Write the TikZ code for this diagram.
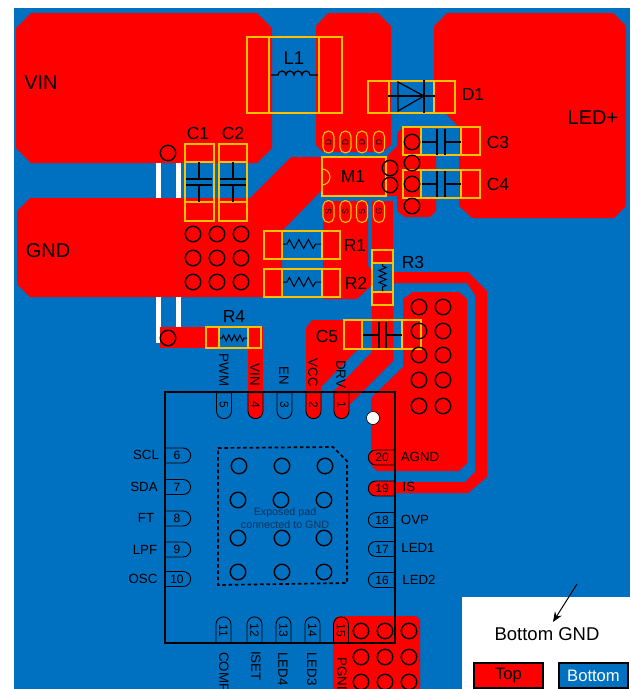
\documentclass[tikz,border=0pt]{standalone}
\usepackage{fontspec}
\setmainfont{Liberation Sans}
\usetikzlibrary{arrows.meta, shapes.misc, decorations.pathmorphing}

\definecolor{boardblue}{HTML}{0070C0}
\definecolor{copperred}{HTML}{FF0000}
\definecolor{partyellow}{HTML}{FFC000}
\definecolor{padtext}{HTML}{083560}

\tikzset{
  copper/.style={fill=copperred, draw=none},
  partbox/.style={draw=partyellow, line width=1.1pt},
  symline/.style={draw=black, line width=1.2pt},
  zigline/.style={draw=black, line width=1pt, decorate},
  viahole/.style={circle, draw=black, line width=1.4pt, minimum size=15.5pt, inner sep=0pt},
  qfnpin/.style={rounded rectangle, draw=black, line width=0.9pt, minimum width=26pt, minimum height=15pt, inner sep=0pt, font=\fontsize{12}{12}\selectfont},
  fetpin/.style={rounded rectangle, draw=partyellow, line width=1.1pt, minimum width=22pt, minimum height=11pt, inner sep=0pt, rotate=90, font=\fontsize{8.5}{8.5}\selectfont},
  biglabel/.style={inner sep=0pt, font=\fontsize{20}{20}\selectfont},
  partlabel/.style={inner sep=0pt, font=\fontsize{17.5}{17.5}\selectfont},
  pinlabel/.style={inner sep=0pt, font=\fontsize{13.3}{13.3}\selectfont},
  legendbox/.style={draw=black, line width=1.2pt, minimum width=69pt, minimum height=25pt, inner sep=0pt, font=\fontsize{16.6}{16.6}\selectfont}
}

\begin{document}
\begin{tikzpicture}[x=1pt, y=-1pt]

\useasboundingbox (0,0) rectangle (631,689);
\fill[white] (0,0) rectangle (631,689);
\fill[boardblue] (14,8) rectangle (630,689);
\fill[white] (462,597) rectangle (631,689);

% top copper
\fill[copper] (31,13) -- (257,13) -- (272,28) -- (272,148) -- (257,163) -- (31,163) -- (16,148) -- (16,28) -- cycle;
\fill[copper] (30,198) -- (250,198) -- (291,157) -- (386,157) -- (397,146) -- (397,196) -- (322,196) -- (322,190) -- (282,231) -- (282,297) -- (30,297) -- (17,284) -- (17,211) -- cycle;
\fill[copper] (328,13) -- (378,13) -- (391,26) -- (391,145) -- (383,152) -- (323,152) -- (316,145) -- (316,26) -- cycle;
\fill[copper] (447,13) -- (613,13) -- (626,26) -- (626,206) -- (614,218) -- (472,218) -- (459,206) -- (459,127) -- (445,113) -- (434,113) -- (434,26) -- cycle;
\fill[copper] (368,81) rectangle (391,113);
\fill[copper] (403,127) -- (421,127) -- (421,156) -- (436,156) -- (436,170) -- (421,170) -- (421,198) -- (436,198) -- (436,211) -- (430,217) -- (405,217) -- (397,211) -- (397,133) -- cycle;
\fill[copper] (323,201) -- (368,201) -- (368,266) -- (372,270) -- (372,285) -- (357,299) -- (323,299) -- cycle;
\fill[copper] (372,201) -- (393,201) -- (393,263) -- (372,263) -- cycle;
\fill[copper] (372,292) -- (393,292) -- (393,361) -- (350,404) -- (333,392) -- (372,352) -- cycle;
\fill[copper] (306,328) -- (312,320) -- (362,320) -- (362,349) -- (357,350) -- (321,387) -- (321,405) -- (306,405) -- cycle;
\fill[copper] (248,327) -- (263,327) -- (263,405) -- (248,405) -- cycle;
\fill[copper] (393,272) -- (468,272) -- (487,291) -- (487,477) -- (468,493) -- (380,493) -- (380,482) -- (465,482) -- (475,472) -- (475,295) -- (467,283) -- (393,283) -- cycle;
\fill[copper] (413,292) -- (459,292) -- (467,299) -- (467,463) -- (459,471) -- (377,471) -- (371,465) -- (371,398) -- (403,367) -- (403,299) -- cycle;
\fill[copper] (338,616) -- (416,616) -- (420,620) -- (420,689) -- (333,689) -- (333,621) -- cycle;

% board cut-outs
\fill[white] (156,163) rectangle (161,198);
\fill[white] (176,163) rectangle (181,198);
\fill[white] (156,297) rectangle (161,343);
\fill[white] (176,297) rectangle (181,327);
\fill[copper] (160,327) rectangle (219,348);

% parts
\draw[partbox] (247,37) rectangle (342,113);
\draw[partbox] (269,37) -- (269,113) (319,37) -- (319,113);
\draw[symline] (271,75) -- (278,75) arc (180:360:4) arc (180:360:4) arc (180:360:4) arc (180:360:4) -- (318,75);

\draw[partbox] (368,81) rectangle (455,113);
\draw[partbox] (389,81) -- (389,113) (434,81) -- (434,113);
\draw[symline] (388,96) -- (435,96);
\draw[symline] (398,82) -- (398,111) -- (424,96) -- cycle;
\draw[symline] (424,80) -- (424,113);

\draw[partbox] (185,144) rectangle (214,221);
\draw[partbox] (185,162) -- (214,162) (185,202) -- (214,202);
\draw[symline] (199,162) -- (199,179) (186,179) -- (212,179) (186,185) -- (212,185) (199,185) -- (199,202);
\draw[partbox] (219,144) rectangle (247,221);
\draw[partbox] (219,162) -- (247,162) (219,202) -- (247,202);
\draw[symline] (233,162) -- (233,179) (220,179) -- (246,179) (220,185) -- (246,185) (233,185) -- (233,202);

\draw[partbox] (403,127) rectangle (480,155);
\draw[partbox] (421,127) -- (421,155) (461,127) -- (461,155);
\draw[symline] (422,142) -- (437,142) (437,129) -- (437,155) (445,129) -- (445,155) (445,142) -- (461,142);
\draw[partbox] (403,170) rectangle (480,198);
\draw[partbox] (421,170) -- (421,198) (461,170) -- (461,198);
\draw[symline] (422,184) -- (437,184) (437,171) -- (437,197) (445,171) -- (445,197) (445,184) -- (461,184);

\draw[partbox] (344,320) rectangle (421,349);
\draw[partbox] (362,320) -- (362,349) (402,320) -- (402,349);
\draw[symline] (363,335) -- (379,335) (379,322) -- (379,348) (386,322) -- (386,348) (386,335) -- (402,335);

\draw[partbox] (264,231) rectangle (340,259);
\draw[partbox] (282,231) -- (282,259) (322,231) -- (322,259);
\draw[zigline, decoration={zigzag, amplitude=4.5pt, segment length=9.5pt, pre length=4pt, post length=4pt}] (283,244) -- (321,244);
\draw[partbox] (264,269) rectangle (340,297);
\draw[partbox] (282,269) -- (282,297) (322,269) -- (322,297);
\draw[zigline, decoration={zigzag, amplitude=4.5pt, segment length=9.5pt, pre length=4pt, post length=4pt}] (283,282) -- (321,282);
\draw[partbox] (372,250) rectangle (393,305);
\draw[partbox] (372,263) -- (393,263) (372,292) -- (393,292);
\draw[zigline, decoration={zigzag, amplitude=3.5pt, segment length=6pt, pre length=2pt, post length=2pt}] (382.5,264) -- (382.5,291);
\draw[partbox] (206,327) rectangle (261,348);
\draw[partbox] (219,327) -- (219,348) (248,327) -- (248,348);
\draw[zigline, decoration={zigzag, amplitude=3pt, segment length=5.5pt, pre length=2pt, post length=2pt}] (220,338) -- (247,338);

\draw[partbox] (322,157) rectangle (386,196);
\draw[partbox] (322,169) arc (-90:90:8);

\node[fetpin] (fet-d1) at (328.5,142) {D};
\node[fetpin] (fet-d2) at (345.5,142) {D};
\node[fetpin] (fet-d3) at (362,142) {D};
\node[fetpin] (fet-d4) at (379,142) {D};
\node[fetpin] (fet-s1) at (328.5,211.5) {S};
\node[fetpin] (fet-s2) at (345.5,211.5) {S};
\node[fetpin] (fet-s3) at (362,211.5) {S};
\node[fetpin] (fet-g) at (379,211.5) {G};

% vias
\node[viahole] (via-vin) at (168,153) {};
\node[viahole] (via-r4) at (168,338) {};
\node[viahole] (via-gnd1) at (193,234) {}; \node[viahole] (via-gnd2) at (217,234) {}; \node[viahole] (via-gnd3) at (241,234) {};
\node[viahole] (via-gnd4) at (193,258) {}; \node[viahole] (via-gnd5) at (217,258) {}; \node[viahole] (via-gnd6) at (241,258) {};
\node[viahole] (via-gnd7) at (193,282) {}; \node[viahole] (via-gnd8) at (217,282) {}; \node[viahole] (via-gnd9) at (241,282) {};
\node[viahole] (via-c1) at (412,142) {}; \node[viahole] (via-c2) at (412,163) {};
\node[viahole] (via-c3) at (412,184) {}; \node[viahole] (via-c4) at (412,206) {};
\node[viahole] (via-m1) at (390,168) {}; \node[viahole] (via-m2) at (390,185) {};
\node[viahole] (via-a1) at (419,307) {}; \node[viahole] (via-a2) at (443,307) {};
\node[viahole] (via-a3) at (419,331) {}; \node[viahole] (via-a4) at (443,331) {};
\node[viahole] (via-a5) at (419,355) {}; \node[viahole] (via-a6) at (443,355) {};
\node[viahole] (via-a7) at (419,380) {}; \node[viahole] (via-a8) at (443,380) {};
\node[viahole] (via-a9) at (419,406) {}; \node[viahole] (via-a10) at (443,406) {};
\node[viahole] (via-p1) at (361,631) {}; \node[viahole] (via-p2) at (385,631) {}; \node[viahole] (via-p3) at (409,631) {};
\node[viahole] (via-p4) at (361,657) {}; \node[viahole] (via-p5) at (385,657) {}; \node[viahole] (via-p6) at (409,657) {};
\node[viahole] (via-p7) at (361,682) {}; \node[viahole] (via-p8) at (385,682) {}; \node[viahole] (via-p9) at (409,682) {};
\node[viahole] (via-e1) at (239,466) {}; \node[viahole] (via-e2) at (282,466) {}; \node[viahole] (via-e3) at (325,466) {};
\node[viahole] (via-e4) at (238,500) {}; \node[viahole] (via-e5) at (281,500) {}; \node[viahole] (via-e6) at (324,500) {};
\node[viahole] (via-e7) at (238,538) {}; \node[viahole] (via-e8) at (282,538) {}; \node[viahole] (via-e9) at (324,538) {};
\node[viahole] (via-e10) at (238,572) {}; \node[viahole] (via-e11) at (282,572) {}; \node[viahole] (via-e12) at (324,572) {};
\node[circle, draw=black, line width=0.6pt, fill=white, minimum size=13pt, inner sep=0pt] (via-dot) at (373,418) {};

% driver chip
\node[qfnpin, rotate=-90, rounded rectangle left arc=none] (pin-5) at (224,405) {5};
\node[qfnpin, rotate=-90, rounded rectangle left arc=none, fill=copperred] (pin-4) at (255.5,405) {4};
\node[qfnpin, rotate=-90, rounded rectangle left arc=none] (pin-3) at (284.5,405) {3};
\node[qfnpin, rotate=-90, rounded rectangle left arc=none, fill=copperred] (pin-2) at (313.5,405) {2};
\node[qfnpin, rotate=-90, rounded rectangle left arc=none, fill=copperred] (pin-1) at (341.5,405) {1};
\node[qfnpin, rounded rectangle left arc=none] (pin-6) at (177,455.5) {6};
\node[qfnpin, rounded rectangle left arc=none] (pin-7) at (177,487) {7};
\node[qfnpin, rounded rectangle left arc=none] (pin-8) at (177,518.5) {8};
\node[qfnpin, rounded rectangle left arc=none] (pin-9) at (177,549.5) {9};
\node[qfnpin, rounded rectangle left arc=none] (pin-10) at (177,579) {10};
\node[qfnpin, rotate=-90, rounded rectangle right arc=none] (pin-11) at (223.5,630.5) {11};
\node[qfnpin, rotate=-90, rounded rectangle right arc=none] (pin-12) at (254.5,630.5) {12};
\node[qfnpin, rotate=-90, rounded rectangle right arc=none] (pin-13) at (283.5,630.5) {13};
\node[qfnpin, rotate=-90, rounded rectangle right arc=none] (pin-14) at (312.5,630.5) {14};
\node[qfnpin, rotate=-90, rounded rectangle right arc=none, fill=copperred] (pin-15) at (341,630.5) {15};
\node[qfnpin, rounded rectangle right arc=none] (pin-16) at (382,580) {16};
\node[qfnpin, rounded rectangle right arc=none] (pin-17) at (382,549) {17};
\node[qfnpin, rounded rectangle right arc=none] (pin-18) at (382,520) {18};
\node[qfnpin, rounded rectangle right arc=none, fill=copperred] (pin-19) at (382,488.5) {19};
\node[qfnpin, rounded rectangle right arc=none, fill=copperred] (pin-20) at (382,457.5) {20};

\draw[black, line width=2.2pt] (165,392) rectangle (395,643);
\draw[black, line width=1.7pt, dash pattern=on 3.5pt off 2.8pt] (218,448) -- (333,447) -- (347,461) -- (347,583) -- (218,585) -- cycle;
\node[anchor=center, inner sep=0pt, align=center, text=padtext, font=\fontsize{10.7}{13}\selectfont] (pad-label) at (285,518) {Exposed pad\\connected to GND};

% labels
\node[biglabel] (vin-label) at (41,83) {VIN};
\node[biglabel] (gnd-label) at (48,251) {GND};
\node[biglabel] (led-label) at (593,118) {LED+};
\node[biglabel, font=\fontsize{18.6}{18.6}\selectfont] (l1-label) at (294,58) {L1};
\node[partlabel] (c1-label) at (198,133) {C1};
\node[partlabel] (c2-label) at (233,133) {C2};
\node[partlabel] (d1-label) at (473,94) {D1};
\node[partlabel] (c3-label) at (498,142) {C3};
\node[partlabel] (c4-label) at (498,184) {C4};
\node[partlabel] (m1-label) at (353,176) {M1};
\node[partlabel] (r1-label) at (355,245) {R1};
\node[partlabel] (r2-label) at (356,283) {R2};
\node[partlabel] (r3-label) at (413,262) {R3};
\node[partlabel] (c5-label) at (327,336) {C5};
\node[partlabel] (r4-label) at (234,316) {R4};

\node[pinlabel, rotate=-90] (pwm-label) at (224,370) {PWM};
\node[pinlabel, rotate=-90] (vinpin-label) at (255,375) {VIN};
\node[pinlabel, rotate=-90] (en-label) at (284,376) {EN};
\node[pinlabel, rotate=-90] (vcc-label) at (313,373) {VCC};
\node[pinlabel, rotate=-90] (drv-label) at (341,374) {DRV};
\node[pinlabel] (scl-label) at (146,455) {SCL};
\node[pinlabel] (sda-label) at (144,487) {SDA};
\node[pinlabel] (ft-label) at (146,518) {FT};
\node[pinlabel] (lpf-label) at (145,550) {LPF};
\node[pinlabel] (osc-label) at (143,579) {OSC};
\node[pinlabel] (agnd-label) at (420,457) {AGND};
\node[pinlabel] (is-label) at (409,487) {IS};
\node[pinlabel] (ovp-label) at (415,520) {OVP};
\node[pinlabel] (led1-label) at (418,548) {LED1};
\node[pinlabel] (led2-label) at (419,580) {LED2};
\node[pinlabel, rotate=-90, anchor=west] (comp-label) at (224,652) {COMP};
\node[pinlabel, rotate=-90, anchor=west] (iset-label) at (256,651) {ISET};
\node[pinlabel, rotate=-90, anchor=west] (led4-label) at (283,652) {LED4};
\node[pinlabel, rotate=-90, anchor=west] (led3-label) at (312,652) {LED3};
\node[pinlabel, rotate=-90, anchor=west] (pgnd-label) at (342,657) {PGND};

% legend
\coordinate (arrow-start) at (577,584);
\coordinate (arrow-end) at (553,622);
\draw[-{Stealth[length=10pt, width=8pt]}, black, line width=1pt] (arrow-start) -- (arrow-end);
\node[inner sep=0pt, font=\fontsize{18.5}{18.5}\selectfont] (bottom-label) at (547,634) {Bottom GND};
\node[legendbox, fill=copperred] (top-key) at (508.5,675.5) {Top};
\node[legendbox, fill=boardblue, text=white] (bottom-key) at (593.5,675.5) {Bottom};

\end{tikzpicture}
\end{document}
